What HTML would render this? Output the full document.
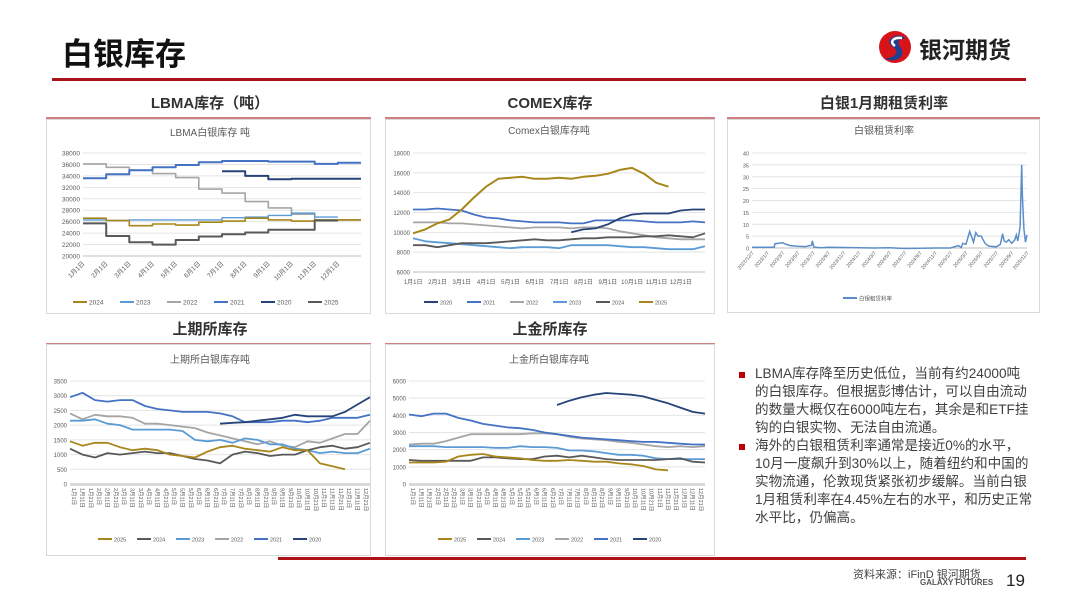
<!DOCTYPE html>
<html><head><meta charset="utf-8">
<style>
body{margin:0;background:#fff;}
#page{position:relative;width:1080px;height:608px;overflow:hidden;background:#fff;font-family:"Liberation Sans","Noto Sans CJK SC",sans-serif;}
.abs{position:absolute;}
.bul{position:absolute;left:755px;font-size:13.6px;line-height:18px;color:#404040;white-space:nowrap;}
.sq{position:absolute;left:739px;width:6px;height:6px;background:#c00000;}
</style></head>
<body>
<div id="page">
<div class="abs" style="left:62px;top:29px;font-size:31px;font-weight:bold;color:#111;font-family:'Noto Sans CJK SC',sans-serif;">白银库存</div>
<div class="abs" style="left:875px;top:28px;width:160px;height:40px;">
<svg width="40" height="40" viewBox="0 0 40 40"><circle cx="20" cy="19" r="16" fill="#d7141a"/><path d="M28 8 C16 6 10 14 18 19 C25 23 20 31 10 30 C18 36 32 30 26 20 C21 14 24 10 30 11 Z" fill="#1f3f8f"/><path d="M27 10 C18 9 14 14 20 18" stroke="#fff" stroke-width="2.5" fill="none"/></svg>
<span style="position:absolute;left:44px;top:3px;font-size:23px;font-weight:bold;color:#222;font-family:'Noto Sans CJK SC',sans-serif;">银河期货</span>
</div>
<div class="abs" style="left:52px;top:78px;width:974px;height:3px;background:#a8141a;"></div>

<div class="sq" style="top:372px"></div>
<div class="bul" style="top:365px">LBMA库存降至历史低位，当前有约24000吨<br>的白银库存。但根据彭博估计，可以自由流动<br>的数量大概仅在6000吨左右，其余是和ETF挂<br>钩的白银实物、无法自由流通。</div>
<div class="sq" style="top:444px"></div>
<div class="bul" style="top:437px">海外的白银租赁利率通常是接近0%的水平，<br>10月一度飙升到30%以上，随着纽约和中国的<br>实物流通，伦敦现货紧张初步缓解。当前白银<br>1月租赁利率在4.45%左右的水平，和历史正常<br>水平比，仍偏高。</div>

<div class="abs" style="left:278px;top:557px;width:748px;height:3px;background:#b01218;"></div>
<div class="abs" style="left:853px;top:566px;font-size:11px;color:#444;">资料来源：iFinD 银河期货</div>
<div class="abs" style="left:920px;top:578px;font-size:8px;font-weight:bold;color:#555;">GALAXY FUTURES</div>
<div class="abs" style="left:1006px;top:571px;font-size:17px;color:#222;">19</div>

<svg id="charts" class="abs" style="left:0;top:0" width="1080" height="608"></svg>
</div>
<script>
const lbmaMonths=["1月1日","2月1日","3月1日","4月1日","5月1日","6月1日","7月1日","8月1日","9月1日","10月1日","11月1日","12月1日"];
const lbmaTicks=[20000,22000,24000,26000,28000,30000,32000,34000,36000,38000];
const lbma2024=[26600,26200,25300,25600,25400,25900,26100,26600,26300,26100,26300,26300];
const lbma2023=[26300,26200,26300,26300,26300,26300,26700,26800,27100,27500,26800,null];
const lbma2022=[36100,35500,35000,34400,33700,31700,31000,29500,28400,27300,26300,26300];
const lbma2021=[33600,34300,35000,35500,35900,36400,36600,36600,36500,36500,36100,36300];
const lbma2020=[null,null,null,null,null,null,34800,34000,33400,33500,33500,33500];
const lbma2025=[25700,23500,22400,22000,22800,23400,23800,24100,24600,24600,26200,null];
const comexMonths=["1月1日","2月1日","3月1日","4月1日","5月1日","6月1日","7月1日","8月1日","9月1日","10月1日","11月1日","12月1日"];
const comexTicks=[6000,8000,10000,12000,14000,16000,18000];
const comex2020=[null,null,null,null,null,null,null,null,null,null,null,null,null,10000,10300,10400,10800,11400,11800,11900,11900,11900,12200,12300,12300];
const comex2021=[12300,12300,12400,12300,12200,11800,11500,11400,11200,11100,11000,11000,11000,10900,10900,11200,11200,11200,11200,11100,11000,11000,11000,11100,11000];
const comex2022=[11000,11000,11000,10900,10900,10800,10700,10600,10500,10400,10500,10500,10500,10400,10500,10500,10400,10100,9900,9700,9500,9400,9300,9300,9300];
const comex2023=[9400,9100,9000,8900,8800,8700,8600,8500,8400,8500,8500,8500,8400,8700,8700,8700,8700,8600,8500,8500,8400,8300,8300,8300,8600];
const comex2024=[8700,8700,8500,8700,8900,8900,8900,9000,9100,9200,9300,9200,9200,9300,9400,9400,9500,9500,9500,9600,9600,9700,9600,9500,9900];
const comex2025=[9900,10300,10900,11300,12300,13500,14600,15400,15500,15600,15400,15400,15500,15400,15600,15700,15900,16300,16500,15900,15000,14600,null,null,null];
const dayLabels=["1","11","21"];
const shfeTicks=[0,500,1000,1500,2000,2500,3000,3500];
const shfe2025=[1450,1300,1400,1400,1250,1150,1200,1150,1000,950,900,1100,1250,1300,1200,1150,1100,1250,1150,1150,700,600,500,null,null];
const shfe2024=[1200,1000,900,1050,1000,1050,1100,1050,1050,950,850,800,700,1000,1100,1050,950,1000,1000,1150,1250,1300,1200,1250,1400];
const shfe2023=[2150,2150,2200,2050,2000,1850,1850,1850,1850,1800,1500,1450,1500,1400,1550,1500,1350,1350,1200,1150,1050,1100,1050,1050,1200];
const shfe2022=[2400,2200,2350,2300,2300,2250,2050,2050,2000,1950,1900,1750,1650,1550,1450,1350,1450,1300,1250,1450,1400,1550,1700,1700,2150];
const shfe2021=[2950,3100,2850,2800,2850,2850,2650,2550,2500,2450,2450,2450,2400,2300,2100,2100,2100,2150,2150,2100,2150,2250,2250,2250,2350];
const shfe2020=[null,null,null,null,null,null,null,null,null,null,null,null,2050,2080,2100,2150,2200,2250,2350,2300,2300,2300,2450,2700,2950];
const sgeTicks=[0,1000,2000,3000,4000,5000,6000];
const sge2025=[1250,1250,1250,1300,1600,1700,1750,1600,1550,1500,1400,1350,1350,1400,1350,1300,1300,1200,1150,1050,850,800,null,null,null];
const sge2024=[1400,1350,1350,1350,1350,1350,1550,1550,1500,1450,1450,1600,1650,1550,1650,1550,1450,1400,1400,1400,1400,1450,1500,1300,1250];
const sge2023=[2200,2200,2200,2150,2150,2150,2150,2100,2100,2200,2150,2150,2100,1950,1950,1900,1800,1700,1700,1650,1500,1450,1450,1450,1450];
const sge2022=[2300,2350,2350,2500,2700,2900,2900,2900,2900,2900,2950,2950,2900,2750,2650,2600,2550,2450,2400,2300,2200,2150,2200,2150,2200];
const sge2021=[4050,3950,4100,4100,3850,3700,3500,3400,3300,3250,3150,3000,2900,2800,2700,2650,2600,2550,2500,2450,2450,2400,2350,2300,2300];
const sge2020=[null,null,null,null,null,null,null,null,null,null,null,null,4600,4850,5050,5200,5300,5250,5200,5100,4900,4700,4450,4200,4100];
const rateLabels=["2022/12/7","2023/1/7","2023/3/7","2023/5/7","2023/7/7","2023/9/7","2023/11/7","2024/1/7","2024/3/7","2024/5/7","2024/7/7","2024/9/7","2024/11/7","2025/1/7","2025/3/7","2025/5/7","2025/7/7","2025/9/7","2025/11/7"];
const rateTicks=[0,5,10,15,20,25,30,35,40];
const rateMonth=[0,1,2,2.9,3,3.5,4,4.5,5,6,7,7.8,7.9,8.1,9,10,12,14,16,18,20,22,24,26,27,27.4,27.6,28,28.5,29,29.3,29.6,30,30.5,31,32,32.5,32.8,33,33.3,33.6,34,34.4,34.6,34.8,34.95,35.1,35.3,35.4,35.6,35.8,36];
const rateValue=[0.3,0.3,0.3,0.3,1.8,2.0,2.2,1.5,1.0,0.7,0.6,1.2,3.0,0.4,0.1,0.3,0.2,0.1,0.0,0.1,-0.2,-0.1,0.0,0.0,1.0,0.2,2.0,1.5,7.0,2.5,6.5,5.0,5.0,2.0,0.8,0.5,1.5,6.0,3.0,2.5,3.5,2.0,3.5,5.5,3.0,6.0,9.0,35.0,22.0,8.0,2.5,5.5];

const NS="http://www.w3.org/2000/svg";
const root=document.getElementById('charts');
function mk(tag,attrs,parent){const e=document.createElementNS(NS,tag);for(const k in attrs)e.setAttribute(k,attrs[k]);(parent||root).appendChild(e);return e;}
function txt(x,y,s,size,fill,anchor,extra){const t=mk('text',Object.assign({x:x,y:y,'font-size':size,fill:fill||'#595959','text-anchor':anchor||'middle','font-family':'"Liberation Sans","Noto Sans CJK SC",sans-serif'},extra||{}));t.textContent=s;return t;}

function section(cx,y,label,ux0,ux1,name){
  const t=txt(cx,y,label,15,'#333','middle',{'font-weight':'bold'});
  
  
  const u=mk('rect',{x:ux0,y:y+9,width:ux1-ux0,height:2,fill:'#d08080'});
  
  
}
function box(x,y,w,h,name){const b=mk('rect',{x:x+0.5,y:y+0.5,width:w,height:h,fill:'#fff',stroke:'#d9d9d9','stroke-width':1});
  
  }
section(210,108,'LBMA库存（吨）',46,371,'lbma');
section(550,108,'COMEX库存',385,715,'comex');
section(884,108,'白银1月期租赁利率',727,1040,'lease-rate');
section(210,334,'上期所库存',46,371,'shfe');
section(550,334,'上金所库存',385,715,'sge');
box(46,119,324,194,'lbma');box(385,119,329,194,'comex');box(727,119,312,193,'lease-rate');
box(46,344,324,211,'shfe');box(385,344,329,211,'sge');

function yAxis(name,ticks,x0,x1,y0,y1,size){
  const lo=ticks[0],hi=ticks[ticks.length-1];
  const ys=v=>y0-(v-lo)/(hi-lo)*(y0-y1);
  ticks.forEach((t,i)=>{
    const g=mk('line',{x1:x0,x2:x1,y1:ys(t),y2:ys(t),stroke:i==0?'#bfbfbf':'#e4e4e4','stroke-width':1});
    
    
    const l=txt(x0-3,ys(t)+2.5,String(t),size,'#595959','end');
    
    
  });
  return ys;
}
function seriesLine(name,vals,xs,ys,color,w,step){
  let d='',pen=false;
  vals.forEach((v,i)=>{
    if(v==null){pen=false;return;}
    if(step){
      const xa=xs(i),xb=xs(i+1);
      d+=(pen?'L':'M')+xa.toFixed(1)+' '+ys(v).toFixed(1)+'L'+xb.toFixed(1)+' '+ys(v).toFixed(1);
    }else d+=(pen?'L':'M')+xs(i).toFixed(1)+' '+ys(v).toFixed(1);
    pen=true;
  });
  const p=mk('path',{d:d,fill:'none',stroke:color,'stroke-width':w,'stroke-linejoin':'round'});
  
  
}
function legend(name,items,cx,y,size,gap){
  const total=items.length*gap;let x=cx-total/2;
  items.forEach(it=>{
    const l=mk('line',{x1:x,x2:x+14,y1:y,y2:y,stroke:it[1],'stroke-width':2});
    
    
    const t=txt(x+16,y+2.5,it[0],size,'#595959','start');
    
    
    x+=gap;
  });
}
function title(s,cx,y,name){const t=txt(cx,y,s,10,'#595959');}

const C={navy:'#264478',blue:'#4472c4',gray:'#a5a5a5',lblue:'#5b9bd5',gold:'#a8861a',dgray:'#595959'};

(function(){
  title('LBMA白银库存 吨',210,136,'lbma');
  const x0=83,x1=361,y0=256,y1=153;
  const ys=yAxis('lbma',lbmaTicks,x0,x1,y0,y1,6.5);
  const xs=i=>x0+i/12*(x1-x0);
  lbmaMonths.forEach((m,i)=>{const t=txt(xs(i)+2,y0+8,m,6.5,'#595959','end',{transform:'rotate(-45 '+(xs(i)+2)+' '+(y0+8)+')'});
    
    });
  seriesLine('lbma-2022',lbma2022,xs,ys,C.gray,1.6,true);
  seriesLine('lbma-2023',lbma2023,xs,ys,C.lblue,1.4,true);
  seriesLine('lbma-2024',lbma2024,xs,ys,C.gold,1.6,true);
  seriesLine('lbma-2021',lbma2021,xs,ys,C.blue,2,true);
  seriesLine('lbma-2020',lbma2020,xs,ys,C.navy,2,true);
  seriesLine('lbma-2025',lbma2025,xs,ys,C.dgray,2,true);
  legend('lbma',[['2024',C.gold],['2023',C.lblue],['2022',C.gray],['2021',C.blue],['2020',C.navy],['2025',C.dgray]],214,302,6.5,47);
})();
(function(){
  title('Comex白银库存吨',549,134,'comex');
  const x0=413,x1=705,y0=272,y1=153;
  const ys=yAxis('comex',comexTicks,x0,x1,y0,y1,6);
  const xs=i=>x0+i/24*(x1-x0);
  comexMonths.forEach((m,i)=>{const t=txt(x0+(i+0.5)/12*(x1-x0)-12,y0+12,m,6,'#595959');
    
    });
  seriesLine('comex-2022',comex2022,xs,ys,C.gray,1.8);
  seriesLine('comex-2023',comex2023,xs,ys,C.lblue,1.8);
  seriesLine('comex-2024',comex2024,xs,ys,C.dgray,1.8);
  seriesLine('comex-2021',comex2021,xs,ys,C.blue,1.8);
  seriesLine('comex-2020',comex2020,xs,ys,C.navy,1.8);
  seriesLine('comex-2025',comex2025,xs,ys,C.gold,2);
  legend('comex',[['2020',C.navy],['2021',C.blue],['2022',C.gray],['2023',C.lblue],['2024',C.dgray],['2025',C.gold]],553,302,5.5,43);
})();
function dayAxis(name,x0,x1,y0){
  let k=0;const n=36;
  for(let m=1;m<=12;m++)dayLabels.forEach(d=>{
    const x=x0+(k+0.5)/n*(x1-x0);
    const t=txt(x-2,y0+4,m+'月'+d+'日',5.5,'#595959','start',{transform:'rotate(90 '+(x-2)+' '+(y0+4)+')'});
    
    
    k++;
  });
}
(function(){
  title('上期所白银库存吨',210,363,'shfe');
  const x0=70,x1=370,y0=484,y1=381;
  const ys=yAxis('shfe',shfeTicks,x0,x1,y0,y1,6);
  mk('rect',{x:x0,y:y0-1,width:x1-x0,height:3,fill:'#d9d9d9'});
  const xs=i=>x0+i/24*(x1-x0);
  dayAxis('shfe',x0,x1,y0);
  seriesLine('shfe-2022',shfe2022,xs,ys,C.gray,1.8);
  seriesLine('shfe-2023',shfe2023,xs,ys,C.lblue,1.8);
  seriesLine('shfe-2024',shfe2024,xs,ys,C.dgray,1.8);
  seriesLine('shfe-2021',shfe2021,xs,ys,C.blue,1.8);
  seriesLine('shfe-2020',shfe2020,xs,ys,C.navy,1.8);
  seriesLine('shfe-2025',shfe2025,xs,ys,C.gold,1.8);
  legend('shfe',[['2025',C.gold],['2024',C.dgray],['2023',C.lblue],['2022',C.gray],['2021',C.blue],['2020',C.navy]],215,539,5.5,39);
})();
(function(){
  title('上金所白银库存吨',549,363,'sge');
  const x0=409,x1=705,y0=484,y1=381;
  const ys=yAxis('sge',sgeTicks,x0,x1,y0,y1,6);
  mk('rect',{x:x0,y:y0-1,width:x1-x0,height:3,fill:'#d9d9d9'});
  const xs=i=>x0+i/24*(x1-x0);
  dayAxis('sge',x0,x1,y0);
  seriesLine('sge-2022',sge2022,xs,ys,C.gray,1.8);
  seriesLine('sge-2023',sge2023,xs,ys,C.lblue,1.8);
  seriesLine('sge-2024',sge2024,xs,ys,C.dgray,1.8);
  seriesLine('sge-2021',sge2021,xs,ys,C.blue,1.8);
  seriesLine('sge-2020',sge2020,xs,ys,C.navy,1.8);
  seriesLine('sge-2025',sge2025,xs,ys,C.gold,1.8);
  legend('sge',[['2025',C.gold],['2024',C.dgray],['2023',C.lblue],['2022',C.gray],['2021',C.blue],['2020',C.navy]],555,539,5.5,39);
})();
(function(){
  title('白银租赁利率',884,134,'lease-rate');
  const x0=752,x1=1027,y0=248,y1=153;
  const ys=yAxis('lease-rate',rateTicks,x0,x1,y0,y1,5.5);
  const xm=m=>x0+m/36*(x1-x0);
  rateLabels.forEach((s,i)=>{const x=x0+i/(rateLabels.length-1)*(x1-x0);
    const t=txt(x+2,y0+5,s,5,'#595959','end',{transform:'rotate(-50 '+(x+2)+' '+(y0+5)+')'});
    
    });
  let d='';rateMonth.forEach((m,i)=>{d+=(i?'L':'M')+xm(m).toFixed(1)+' '+ys(rateValue[i]).toFixed(1);});
  const p=mk('path',{d:d,fill:'none',stroke:'#5b8ec9','stroke-width':1.5});
  
  
  legend('lease-rate',[['白银租赁利率','#5b8ec9']],868,298,5.5,50);
})();
</script>
</body></html>
